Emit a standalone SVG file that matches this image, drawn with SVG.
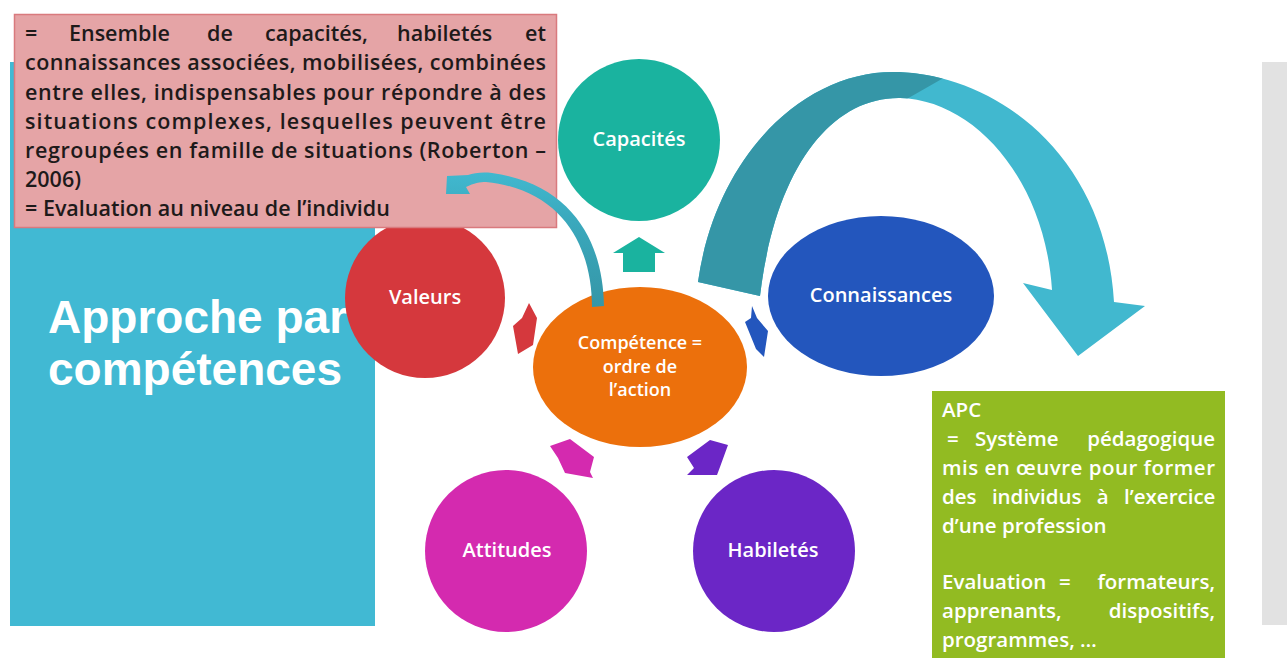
<svg xmlns="http://www.w3.org/2000/svg" width="1287" height="658" viewBox="0 0 1287 658">
<defs>
<style>
.lbl{font-family:"Open Sans",Lato,"Liberation Sans",sans-serif;font-weight:600;font-size:20px;fill:#ffffff;text-anchor:middle}
.lbl2{font-family:"Open Sans",Lato,"Liberation Sans",sans-serif;font-weight:600;font-size:18px;fill:#ffffff;text-anchor:middle}
.pk{font-family:"Open Sans",Lato,"Liberation Sans",sans-serif;font-weight:600;font-size:21.5px;fill:#1e1a1a}
.gr{font-family:"Open Sans",Lato,"Liberation Sans",sans-serif;font-weight:600;font-size:20.5px;fill:#ffffff}
.title{font-family:"Liberation Sans",Arial,sans-serif;font-weight:700;font-size:46px;fill:#ffffff}
</style>
<linearGradient id="smallArrowGrad" x1="0" y1="0" x2="0" y2="1">
<stop offset="0" stop-color="#41b8cf"/>
<stop offset="0.35" stop-color="#3aa9bd"/>
<stop offset="1" stop-color="#3596a7"/>
</linearGradient>
<clipPath id="darkPart">
<polygon points="600,0 947,0 947,76 905,100 880,400 600,400"/>
</clipPath>
</defs>

<g id="background">
<rect x="10" y="62" width="365" height="564" fill="#41b9d3"/>
<rect x="1262" y="62" width="25" height="563" fill="#e2e2e2"/>
<text class="title" x="48" y="333">Approche par</text>
<text class="title" x="48" y="385">compétences</text>
</g>

<g id="connectors">
<path id="bigArrow" d="M 698,282 C 715,160 800,72 893,72 C 990,72 1105,150 1114,302 L 1145,306 L 1078,356 L 1023,283 L 1052,290 C 1045,180 975,100 900,98 C 830,97 775,170 760,296 Z" fill="#41b8cf"/>
<path d="M 698,282 C 715,160 800,72 893,72 C 990,72 1105,150 1114,302 L 1145,306 L 1078,356 L 1023,283 L 1052,290 C 1045,180 975,100 900,98 C 830,97 775,170 760,296 Z" fill="#3596a7" clip-path="url(#darkPart)"/>
<polygon id="arrowCap" points="639,237 665,253 655,253 655,272 623,272 623,253 613,253" fill="#1ab39f"/>
<polygon id="arrowVal" points="529,303 537,318 533,345 518,354 513,326 522,318" fill="#d5383d"/>
<polygon id="arrowCon" points="752,306 757,318 768,331 764,357 756,349 745,322 751,318" fill="#2356bd"/>
<polygon id="arrowAtt" points="550,446 570,439 594,457 590,472 593,478 565,473 558,458" fill="#d42aaf"/>
<polygon id="arrowHab" points="687,457 710,440 728,445 720,467 717,475 687,475 694,468" fill="#6b26c6"/>
</g>

<g id="node-capacites">
<circle cx="639" cy="140" r="81" fill="#1ab39f"/>
<text class="lbl" x="639" y="146">Capacités</text>
</g>
<g id="node-valeurs">
<circle cx="425" cy="298" r="80" fill="#d5383d"/>
<text class="lbl" x="425" y="304">Valeurs</text>
</g>
<g id="node-connaissances">
<ellipse cx="881" cy="296" rx="113" ry="80" fill="#2356bd"/>
<text class="lbl" x="881" y="302">Connaissances</text>
</g>
<g id="node-competence">
<ellipse cx="640" cy="367" rx="107" ry="80" fill="#ec700c"/>
<text class="lbl2" x="640" y="349">Compétence =</text>
<text class="lbl2" x="640" y="373">ordre de</text>
<text class="lbl2" x="640" y="396">l’action</text>
</g>
<g id="node-attitudes">
<circle cx="506" cy="551" r="81" fill="#d42aaf"/>
<text class="lbl" x="507" y="557">Attitudes</text>
</g>
<g id="node-habiletes">
<circle cx="774" cy="551" r="81" fill="#6b26c6"/>
<text class="lbl" x="773" y="557">Habiletés</text>
</g>

<g id="node-definition">
<rect x="14.5" y="14.5" width="542" height="213" fill="#e5a4a6" stroke="#d97a7e" stroke-width="1.5"/>
<text class="pk" y="41"><tspan x="25">=</tspan><tspan x="69">Ensemble</tspan><tspan x="207">de</tspan><tspan x="265">capacités,</tspan><tspan x="397">habiletés</tspan><tspan x="546" text-anchor="end">et</tspan></text>
<text class="pk" x="25" y="70" textLength="521" lengthAdjust="spacing">connaissances associées, mobilisées, combinées</text>
<text class="pk" x="25" y="99.5" textLength="521" lengthAdjust="spacing">entre elles, indispensables pour répondre à des</text>
<text class="pk" x="25" y="128.5" textLength="521" lengthAdjust="spacing">situations complexes, lesquelles peuvent être</text>
<text class="pk" x="25" y="157.5" textLength="521" lengthAdjust="spacing">regroupées en famille de situations (Roberton –</text>
<text class="pk" x="25" y="186.5">2006)</text>
<text class="pk" x="25" y="215.5">= Evaluation au niveau de l’individu</text>
</g>

<g id="smallArrow">
<path d="M 604,306 C 603,245 575,185 492,173 C 482,172 474,173 468,175 L 447,176 L 446,194 L 470,194 L 466,187 C 474,183 480,182 486,182 C 565,190 592,250 592,307 Z" fill="url(#smallArrowGrad)"/>
</g>

<g id="node-apc">
<rect x="932" y="391" width="293" height="267" fill="#92bb22"/>
<text class="gr" x="942" y="417">APC</text>
<text class="gr" y="446"><tspan x="947">=</tspan><tspan x="975">Système</tspan><tspan x="1215" text-anchor="end">pédagogique</tspan></text>
<text class="gr" x="942" y="475" textLength="273" lengthAdjust="spacing">mis en œuvre pour former</text>
<text class="gr" x="942" y="504" word-spacing="10">des individus à l’exercice</text>
<text class="gr" x="942" y="533">d’une profession</text>
<text class="gr" y="589"><tspan x="942">Evaluation</tspan><tspan x="1059">=</tspan><tspan x="1215" text-anchor="end">formateurs,</tspan></text>
<text class="gr" y="618"><tspan x="942">apprenants,</tspan><tspan x="1215" text-anchor="end">dispositifs,</tspan></text>
<text class="gr" x="942" y="647">programmes, …</text>
</g>
</svg>
